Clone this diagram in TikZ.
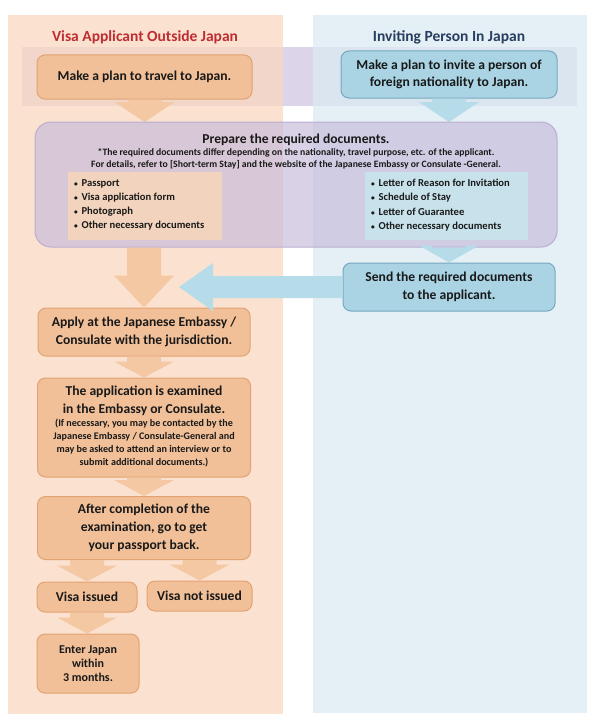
\documentclass[tikz,border=0pt]{standalone}
\usepackage{fontspec}
\setmainfont{Carlito}
\usetikzlibrary{calc}
\definecolor{bandc}{RGB}{220,212,232}
\definecolor{colL}{RGB}{250,216,191}
\definecolor{colR}{RGB}{219,235,244}
\definecolor{oBox}{RGB}{241,192,152}
\definecolor{oLine}{RGB}{226,162,114}
\definecolor{oArr}{RGB}{244,200,162}
\definecolor{bBox}{RGB}{170,212,228}
\definecolor{bLine}{RGB}{118,168,190}
\definecolor{bArr}{RGB}{182,220,233}
\definecolor{pBox}{RGB}{198,186,218}
\definecolor{pLine}{RGB}{186,174,210}
\definecolor{oList}{RGB}{242,212,190}
\definecolor{bList}{RGB}{200,226,236}
\definecolor{hdrRed}{RGB}{190,45,50}
\definecolor{hdrBlue}{RGB}{40,62,95}
\definecolor{txt}{RGB}{25,25,25}
\tikzset{
  obox/.style={draw=oLine, fill=oBox, line width=1pt, rounded corners=8pt,
    align=center, inner sep=0pt, text=txt, font=\bfseries\fontsize{13.6}{18}\selectfont},
  bbox/.style={obox, draw=bLine, fill=bBox},
  hdr/.style={font=\bfseries\fontsize{15.5}{18}\selectfont, inner sep=0pt},
  plist/.style={align=left, anchor=north west, inner sep=0pt, text=txt,
    font=\bfseries\fontsize{10.6}{14.3}\selectfont},
}
\newcommand\dotb{\scalebox{0.7}{•}\hspace{0.35em}}
\newcommand\bdown[4]{\fill[#3] let \p1=#1, \p2=#2 in
  (\x1-17pt,\y1) -- (\x1-17pt,\y2+#4) -- (\x1-30pt,\y2+#4) -- (\x1,\y2)
  -- (\x1+30pt,\y2+#4) -- (\x1+17pt,\y2+#4) -- (\x1+17pt,\y1) -- cycle;}
\newcommand\bleft[3]{\fill[#3] let \p1=#1, \p2=#2 in
  (\x1,\y1+11pt) -- (\x2+34pt,\y1+11pt) -- (\x2+34pt,\y1+24pt) -- (\x2,\y1)
  -- (\x2+34pt,\y1-24pt) -- (\x2+34pt,\y1-11pt) -- (\x1,\y1-11pt) -- cycle;}
\begin{document}
\begin{tikzpicture}[x=1pt,y=-1pt]
\useasboundingbox (0,0) rectangle (600,717);
\fill[white] (0,0) rectangle (600,717);
% band and columns
\fill[bandc] (22,47) rectangle (577,106);
\fill[colL, fill opacity=0.75] (8,15) rectangle (283,714);
\fill[colR, fill opacity=0.75] (313,15) rectangle (587,713);
% headers
\node[hdr, text=hdrRed] (hL) at (145,37) {Visa Applicant Outside Japan};
\node[hdr, text=hdrBlue] (hR) at (449,37) {Inviting Person In Japan};
% top boxes
\node[obox, minimum width=215pt, minimum height=44pt] (plan) at (144.5,77) {Make a plan to travel to Japan.};
\node[bbox, minimum width=216pt, minimum height=47pt] (invite) at (449,74.5) {Make a plan to invite a person of\\[-1pt]foreign nationality to Japan.};
% purple box
\coordinate (prepTop) at (296,122);
\bdown{(plan.south)}{(plan.south |- prepTop)}{oArr}{20pt}
\bdown{(invite.south)}{(invite.south |- prepTop)}{bArr}{20pt}
\node[draw=pLine, fill=pBox, fill opacity=0.65, line width=1pt, rounded corners=16pt,
  minimum width=522pt, minimum height=125pt, inner sep=0pt] (prep) at (296,184.5) {};
\node[text=txt, font=\bfseries\fontsize{13.6}{15}\selectfont, inner sep=0pt] (prepT) at (296,140) {Prepare the required documents.};
\node[text=txt, align=center, font=\bfseries\fontsize{9.7}{12}\selectfont, inner sep=0pt] (prepN) at (296,159) {*The required documents differ depending on the nationality, travel purpose, etc. of the applicant.\\For details, refer to [Short-term Stay] and the website of the Japanese Embassy or Consulate -General.};
\fill[oList] (68,172) rectangle (222,240);
\fill[bList] (365,172) rectangle (528,240);
\node[plist] (listL) at (74,179) {\dotb Passport\\\dotb Visa application form\\\dotb Photograph\\\dotb Other necessary documents};
\node[plist] (listR) at (371,179) {\dotb Letter of Reason for Invitation\\\dotb Schedule of Stay\\\dotb Letter of Guarantee\\\dotb Other necessary documents};
% send box
\node[bbox, minimum width=212pt, minimum height=48pt] (send) at (449,287) {Send the required documents\\to the applicant.};
\bdown{(prep.south -| send.north)}{(send.north)}{bArr}{17pt}
% applicant flow
\node[obox, minimum width=212pt, minimum height=48pt] (apply) at (144,332) {Apply at the Japanese Embassy /\\Consulate with the jurisdiction.};
\bdown{(prep.south -| apply.north)}{(apply.north)}{oArr}{32pt}
\coordinate (tipH) at (179,287);
\bleft{(send.west)}{(tipH)}{bArr}
\node[obox, minimum width=213pt, minimum height=99pt] (exam) at (144,427.5) {};
\node[text=txt, align=center, font=\bfseries\fontsize{13.6}{18}\selectfont, inner sep=0pt] (examT) at (144,401) {The application is examined\\in the Embassy or Consulate.};
\node[text=txt, align=center, font=\bfseries\fontsize{10.1}{13}\selectfont, inner sep=0pt] (examN) at (144,443) {(If necessary, you may be contacted by the\\Japanese Embassy / Consulate-General and\\may be asked to attend an interview or to\\submit additional documents.)};
\bdown{(apply.south)}{(exam.north)}{oArr}{16pt}
\node[obox, minimum width=213pt, minimum height=63pt] (after) at (144,528) {After completion of the\\examination, go to get\\your passport back.};
\bdown{(exam.south)}{(after.north)}{oArr}{16pt}
\node[obox, minimum width=100pt, minimum height=30pt] (issued) at (87,597) {Visa issued};
\node[obox, minimum width=105pt, minimum height=30pt] (notissued) at (199.5,596) {Visa not issued};
\bdown{(after.south -| issued.north)}{(issued.north)}{oArr}{16pt}
\bdown{(after.south -| notissued.north)}{(notissued.north)}{oArr}{16pt}
\node[obox, minimum width=102pt, minimum height=59pt, font=\bfseries\fontsize{12}{14}\selectfont] (enter) at (88,663.5) {Enter Japan\\within\\3 months.};
\bdown{(issued.south)}{(enter.north)}{oArr}{16pt}
\end{tikzpicture}
\end{document}
